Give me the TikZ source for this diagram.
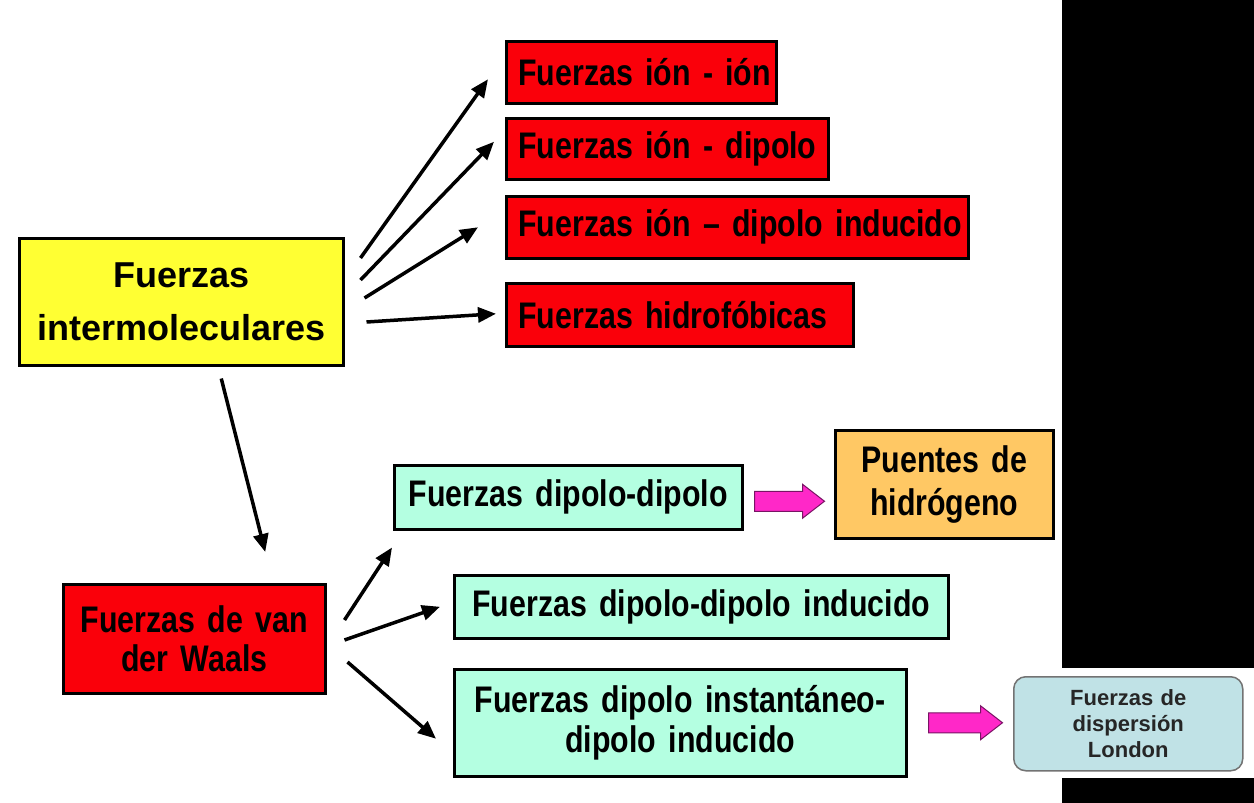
\documentclass[tikz,border=0pt]{standalone}
\usepackage{fontspec}
\setmainfont{Liberation Sans}
\newfontfamily\nar{Liberation Sans}[FakeStretch=0.82]
\newcommand\tightsp{\spaceskip=0.19em plus 0.05em\relax}
\usetikzlibrary{arrows.meta}
\definecolor{cred}{RGB}{250,0,10}
\definecolor{cyel}{RGB}{255,255,51}
\definecolor{ccyan}{RGB}{180,255,225}
\definecolor{corange}{RGB}{255,200,100}
\definecolor{clondon}{RGB}{192,226,230}
\definecolor{cmag}{RGB}{255,40,200}
\definecolor{cmagb}{RGB}{120,20,100}
\tikzset{
  box/.style={draw=black, line width=2.5pt, inner xsep=12pt, inner ysep=0pt, anchor=north west,
    font=\nar\bfseries\fontsize{37}{43}\selectfont\tightsp},
  redbox/.style={box, fill=cred, align=left},
  cyanbox/.style={box, fill=ccyan, align=center},
  arr/.style={line width=3.5pt, -{Triangle[length=18pt,width=15pt]}},
  marrow/.style={fill=cmag, draw=cmagb, line width=1pt},
}
\begin{document}
\begin{tikzpicture}[x=1pt,y=-1pt]
\useasboundingbox (0,0) rectangle (1254,803);
\fill[white] (0,0) rectangle (1254,803);
\fill[black] (1062,0) rectangle (1254,668);
\fill[black] (1062,778) rectangle (1254,803);

% central yellow
\node[box, fill=cyel, align=center, minimum width=324pt, minimum height=127pt, text width=300pt,
  font=\bfseries\fontsize{36}{53}\selectfont] (y) at (18,237) {Fuerzas\\intermoleculares};

% red boxes
\node[redbox, minimum width=270pt, minimum height=62pt, text width=246pt] (r1) at (505,40) {\mbox{Fuerzas ión - ión}};
\node[redbox, minimum width=322pt, minimum height=61pt, text width=298pt] (r2) at (505,117) {\mbox{Fuerzas ión - dipolo}};
\node[redbox, minimum width=462pt, minimum height=62pt, text width=438pt] (r3) at (505,195) {\mbox{Fuerzas ión – dipolo inducido}};
\node[redbox, minimum width=347pt, minimum height=63pt, text width=323pt] (r4) at (505,282) {\mbox{Fuerzas hidrofóbicas}};

% van der Waals
\node[box, fill=cred, align=center, minimum width=262pt, minimum height=109pt, text width=238pt,
  font=\nar\bfseries\fontsize{37}{39}\selectfont\tightsp] (v) at (62,583) {Fuerzas de van\\der Waals};

% cyan boxes
\node[cyanbox, minimum width=348pt, minimum height=64pt, text width=324pt] (c1) at (393,464) {\mbox{Fuerzas dipolo-dipolo}};
\node[cyanbox, minimum width=494pt, minimum height=63pt, text width=470pt] (c2) at (453,574) {\mbox{Fuerzas dipolo-dipolo inducido}};
\node[cyanbox, minimum width=452pt, minimum height=107pt, text width=428pt,
  font=\nar\bfseries\fontsize{37}{40}\selectfont\tightsp] (c3) at (453,668) {Fuerzas dipolo instantáneo-\\dipolo inducido};

% orange
\node[box, fill=corange, align=center, minimum width=218pt, minimum height=108pt, text width=194pt,
  font=\nar\bfseries\fontsize{37}{43}\selectfont\tightsp] (o) at (834,429) {Puentes de\\hidrógeno};

% London
\node[draw=black!55, fill=clondon, line width=1.5pt, rounded corners=12pt, anchor=north west,
  minimum width=229pt, minimum height=94pt, text width=215pt, inner sep=0pt, align=center,
  text=black!85, font=\bfseries\fontsize{22}{26}\selectfont] (l) at (1013,676) {Fuerzas de\\dispersión\\London};

% arrows from yellow
\draw[arr] ([xshift=16pt,yshift=-21pt]y.north east) -- ([xshift=-17pt,yshift=-7pt]r1.west);
\draw[arr] ([xshift=16pt,yshift=-43pt]y.north east) -- ([xshift=-11pt,yshift=7pt]r2.west);
\draw[arr] ([xshift=20pt,yshift=-61pt]y.north east) -- ([xshift=-27pt]r3.west);
\draw[arr] ([xshift=22pt,yshift=-85pt]y.north east) -- ([xshift=-9pt,yshift=1pt]r4.west);
\draw[arr] ([xshift=40pt,yshift=-12pt]y.south) -- ([xshift=71pt,yshift=31pt]v.north);

% arrows from van der Waals
\draw[arr] ([xshift=18pt,yshift=-37pt]v.north east) -- ([xshift=-1pt,yshift=-17pt]c1.south west);
\draw[arr] ([xshift=18pt,yshift=-57pt]v.north east) -- ([xshift=-13pt]c2.west);
\draw[arr] ([xshift=21pt,yshift=-79pt]v.north east) -- ([xshift=-17pt,yshift=-16pt]c3.west);

% magenta block arrows
\draw[marrow] ([xshift=11pt,yshift=-4pt]c1.east) ++(0,-10) -- ++(48,0) -- ++(0,-7) -- ++(22,17) -- ++(-22,17) -- ++(0,-7) -- ++(-48,0) -- cycle;
\draw[marrow] ([xshift=21pt]c3.east) ++(0,-10) -- ++(52,0) -- ++(0,-7) -- ++(22,17) -- ++(-22,17) -- ++(0,-7) -- ++(-52,0) -- cycle;
\end{tikzpicture}
\end{document}
